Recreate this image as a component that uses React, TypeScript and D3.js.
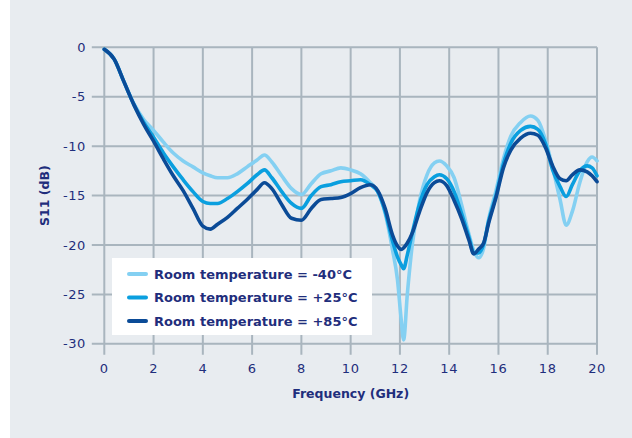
import React from "react";
import * as d3 from "d3";

// Frequency samples (GHz) shared by the three measurement series
const freqGHz = [
  0, 0.4, 0.8, 1.2, 1.6, 2.0, 2.4, 2.8, 3.2, 3.6, 4.0, 4.3, 4.6, 5.0, 5.4, 5.8,
  6.2, 6.5, 6.8, 7.2, 7.6, 8.0, 8.4, 8.8, 9.2, 9.6, 10.0, 10.4, 10.8, 11.1,
  11.4, 11.7, 11.9, 12.05, 12.15, 12.3, 12.5, 12.8, 13.1, 13.4, 13.6, 13.9,
  14.2, 14.5, 14.8, 15.0, 15.2, 15.4, 15.6, 15.9, 16.2, 16.5, 16.9, 17.3, 17.6,
  17.9, 18.2, 18.5, 18.75, 19.0, 19.3, 19.6, 19.8, 20.0,
];

// S11 (dB) at -40 °C
const s11Minus40 = [
  -0.2, -1.2, -3.5, -5.7, -7.3, -8.4, -9.6, -10.7, -11.5, -12.1, -12.7, -13.0,
  -13.2, -13.2, -12.8, -12.1, -11.4, -10.9, -11.6, -13.0, -14.3, -14.9, -13.8,
  -12.8, -12.5, -12.2, -12.4, -12.8, -13.7, -14.6, -16.8, -20.5, -23.5, -27.5,
  -29.6, -25.0, -20.0, -15.5, -12.9, -11.7, -11.5, -12.0, -13.2, -15.9, -18.9,
  -20.6, -21.3, -20.3, -17.4, -14.5, -11.3, -9.0, -7.6, -6.95, -7.4, -9.3,
  -12.2, -15.4, -18.0, -16.6, -13.7, -11.6, -11.1, -11.5,
];

// S11 (dB) at +25 °C
const s11Plus25 = [
  -0.2, -1.2, -3.5, -5.8, -7.6, -9.1, -10.7, -12.1, -13.4, -14.6, -15.6, -15.8,
  -15.8, -15.3, -14.6, -13.8, -12.9, -12.4, -13.2, -14.6, -15.8, -16.3, -15.0,
  -14.1, -13.9, -13.6, -13.5, -13.4, -13.9, -14.6, -16.6, -19.6, -21.2, -22.0,
  -22.4, -21.0, -18.8, -15.8, -13.9, -13.1, -12.9, -13.3, -14.6, -16.8, -19.2,
  -20.8, -20.8, -19.9, -17.6, -15.0, -11.8, -9.7, -8.4, -8.0, -8.3, -9.7,
  -12.4, -14.1, -15.1, -13.9, -12.5, -12.0, -12.2, -13.0,
];

// S11 (dB) at +85 °C
const s11Plus85 = [
  -0.2, -1.2, -3.5, -5.8, -7.8, -9.5, -11.3, -13.0, -14.5, -16.3, -18.1, -18.4,
  -17.9, -17.2, -16.3, -15.4, -14.4, -13.7, -14.3, -15.9, -17.3, -17.5, -16.3,
  -15.4, -15.3, -15.2, -14.8, -14.2, -13.9, -14.5, -16.3, -19.0, -20.1, -20.45,
  -20.3, -19.8, -18.8, -16.6, -14.7, -13.7, -13.5, -14.0, -15.5, -17.3, -19.5,
  -20.9, -20.4, -19.8, -17.8, -15.2, -12.2, -10.4, -9.2, -8.7, -8.9, -10.1,
  -12.0, -13.3, -13.5, -12.9, -12.4, -12.6, -13.0, -13.6,
];

const seriesLabels = [
  "Room temperature = -40°C",
  "Room temperature = +25°C",
  "Room temperature = +85°C",
];
const seriesColors = ["#84d0f2", "#0a9fdf", "#0b4b97"];
const seriesValues = [s11Minus40, s11Plus25, s11Plus85];

const xTicks = [0, 2, 4, 6, 8, 10, 12, 14, 16, 18, 20];
const yTicks = [0, -5, -10, -15, -20, -25, -30];

const W = 632;
const H = 438;
const plot = { left: 104.3, right: 597, top: 47.3, bottom: 343.8 };

const textColor = "#1f2e7c";
const gridColor = "#a9b5be";
const font = "'DejaVu Sans', sans-serif";

export default function App() {
  const x = d3.scaleLinear().domain([0, 20]).range([plot.left, plot.right]);
  const y = d3.scaleLinear().domain([0, -30]).range([plot.top, plot.bottom]);

  const line = d3
    .line<[number, number]>()
    .x((d) => x(d[0]))
    .y((d) => y(d[1]))
    .curve(d3.curveMonotoneX);

  const legendRows = [274, 297.5, 321];

  return (
    <svg
      width={W}
      height={H}
      style={{ position: "absolute", left: 0, top: 0, display: "block" }}
      fontFamily={font}
    >
      <rect x={0} y={0} width={W} height={H} fill="#ffffff" />
      <rect x={10} y={0} width={W - 10} height={H} fill="#e8ecf0" />

      {/* grid */}
      {xTicks.map((t) => (
        <line
          key={`vx${t}`}
          x1={x(t)}
          x2={x(t)}
          y1={plot.top}
          y2={plot.bottom + 11}
          stroke={gridColor}
          strokeWidth={2}
        />
      ))}
      {yTicks.map((t) => (
        <line
          key={`hy${t}`}
          x1={plot.left - 12.5}
          x2={plot.right}
          y1={y(t)}
          y2={y(t)}
          stroke={gridColor}
          strokeWidth={2}
        />
      ))}

      {/* tick labels */}
      {yTicks.map((t) => (
        <text
          key={`ly${t}`}
          x={86}
          y={y(t)}
          dy="0.35em"
          textAnchor="end"
          fontSize={13}
          letterSpacing={0.6}
          fill={textColor}
        >
          {t === 0 ? "0" : `-${Math.abs(t)}`}
        </text>
      ))}
      {xTicks.map((t) => (
        <text
          key={`lx${t}`}
          x={x(t)}
          y={368}
          dy="0.35em"
          textAnchor="middle"
          fontSize={13}
          letterSpacing={0.6}
          fill={textColor}
        >
          {t}
        </text>
      ))}

      {/* axis titles */}
      <text
        x={(plot.left + plot.right) / 2}
        y={394}
        dy="0.35em"
        textAnchor="middle"
        fontSize={12.5}
        fontWeight="bold"
        fill={textColor}
      >
        Frequency (GHz)
      </text>
      <text
        transform={`translate(45, ${(plot.top + plot.bottom) / 2}) rotate(-90)`}
        dy="0.35em"
        textAnchor="middle"
        fontSize={12.5}
        fontWeight="bold"
        fill={textColor}
      >
        S11 (dB)
      </text>

      {/* series */}
      {seriesValues.map((vals, i) => (
        <path
          key={`s${i}`}
          d={line(freqGHz.map((f, k) => [f, vals[k]]) as [number, number][]) || ""}
          fill="none"
          stroke={seriesColors[i]}
          strokeWidth={3.6}
          strokeLinejoin="round"
          strokeLinecap="round"
        />
      ))}

      {/* legend */}
      <rect x={112} y={258} width={260} height={77} fill="#ffffff" />
      {seriesLabels.map((label, i) => (
        <g key={`lg${i}`}>
          <line
            x1={129}
            x2={146}
            y1={legendRows[i]}
            y2={legendRows[i]}
            stroke={seriesColors[i]}
            strokeWidth={4}
            strokeLinecap="round"
          />
          <text
            x={154}
            y={legendRows[i]}
            dy="0.35em"
            fontSize={13}
            fontWeight="bold"
            fill={textColor}
          >
            {label}
          </text>
        </g>
      ))}
    </svg>
  );
}
